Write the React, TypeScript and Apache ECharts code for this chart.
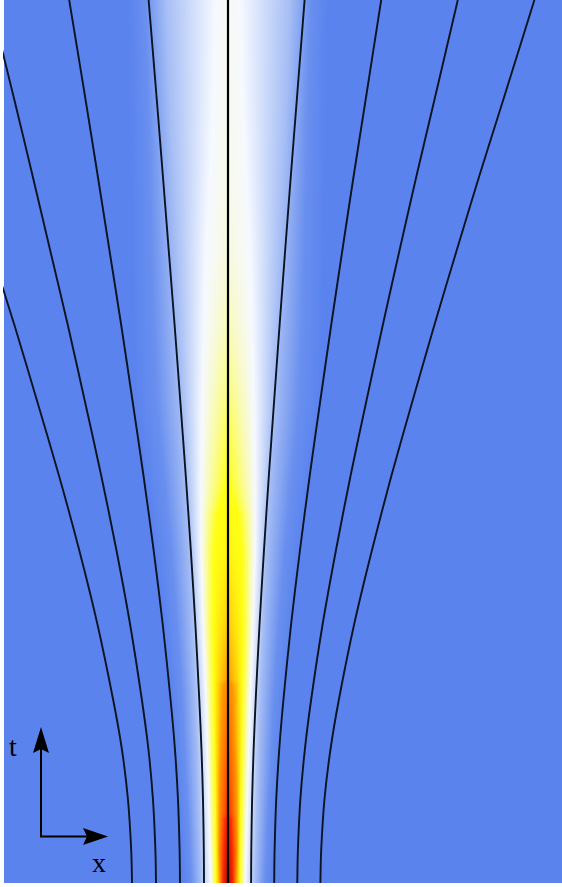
import React, { useEffect, useRef } from "react";
import * as echarts from "echarts";

// ---- characteristic curves: x offset from the centre line (px units) at each time row t ----
const tRows = [0, 33, 83, 133, 183, 258, 333, 408, 483, 558, 633, 708, 783, 883];
const curveL1 = [-24, -24.2, -25, -26.5, -28.7, -32.6, -37.2, -42.3, -47.8, -53.4, -59.3, -65.2, -71.2, -79.4];
const curveL2 = [-48, -48.4, -50, -53, -57.4, -65.2, -74.4, -84.6, -95.6, -106.8, -118.6, -130.4, -142.4, -158.8];
const curveL3 = [-72, -72.6, -75, -79.5, -86.1, -97.8, -111.6, -126.9, -143.4, -160.2, -177.9, -195.6, -213.6, -238.2];
const curveL4 = [-96, -96.8, -100, -106, -114.8, -130.4, -148.8, -169.2, -191.2, -213.6, -237.2, -260.8, -284.8, -317.6];
const curveR1 = [23.1, 23.3, 24.1, 25.6, 27.7, 31.5, 36, 40.9, 46.2, 51.6, 57.2, 62.9, 68.8, 76.6];
const curveR2 = [46.2, 46.6, 48.2, 51.2, 55.4, 63, 72, 81.8, 92.4, 103.2, 114.4, 125.8, 137.6, 153.2];
const curveR3 = [69.3, 69.9, 72.3, 76.8, 83.1, 94.5, 108, 122.7, 138.6, 154.8, 171.6, 188.7, 206.4, 229.8];
const curveR4 = [92.4, 93.2, 96.4, 102.4, 110.8, 126, 144, 163.6, 184.8, 206.4, 228.8, 251.6, 275.2, 306.4];
const curves = [curveL4, curveL3, curveL2, curveL1, curveR1, curveR2, curveR3, curveR4];

// ---- heat band: rows ----
const bandT = [0, 33, 108, 183, 258, 333, 408, 483, 558, 633, 708, 783, 883];
// peak colour level at the centre (1 light blue, 2 white, 3 yellow, 4 orange, 5 red, 6 dark)
const bandPeak = [5.5, 5.3, 4.7, 4.2, 3.5, 3.1, 3.0, 2.6, 2.3, 2.14, 2.1, 2.07, 2.05];
// half-widths at which each colour level is reached
const hwEdge = [45, 47, 52, 57, 64, 72, 82, 92, 95, 96, 97, 98, 100];
const hwLightBlue = [27, 28, 30, 32, 35, 38, 42, 46, 49, 52, 55, 58, 62];
const hwWhite = [17, 18, 20, 22, 25, 27, 27, 26, 24, 22, 18, 15, 12];
const hwYellow = [12, 12, 13, 14, 15, 14, 7, 0, 0, 0, 0, 0, 0];
const hwOrange = [8, 9, 8, 5, 0, 0, 0, 0, 0, 0, 0, 0, 0];
const hwRed = [5, 4, 0, 0, 0, 0, 0, 0, 0, 0, 0, 0, 0];

const levelColors = ["#5a83ee", "#a6bef5", "#f6f9ff", "#ffff14", "#ff9400", "#ff2400", "#400000"];
const BG = "#5a83ee";
const LINE = "#0a1420";

function hexToRgb(h: string) {
  const n = parseInt(h.slice(1), 16);
  return [(n >> 16) & 255, (n >> 8) & 255, n & 255];
}
function mix(a: string, b: string, f: number) {
  const x = hexToRgb(a);
  const y = hexToRgb(b);
  const c = x.map((v, i) => Math.round(v + (y[i] - v) * f));
  return `rgb(${c[0]},${c[1]},${c[2]})`;
}
function ramp(p: number) {
  const k = Math.max(0, Math.min(levelColors.length - 2, Math.floor(p)));
  const f = Math.max(0, Math.min(1, p - k));
  return mix(levelColors[k], levelColors[k + 1], f);
}

export default function App() {
  const ref = useRef<HTMLDivElement>(null);
  useEffect(() => {
    const chart = echarts.init(ref.current!, null, { renderer: "svg" });

    const bandSeries = {
      type: "custom",
      coordinateSystem: "cartesian2d",
      clip: true,
      silent: true,
      z: 1,
      data: bandT.slice(0, -1).map((t, i) => [0, t, bandT[i + 1]]),
      renderItem: (params: any, api: any) => {
        const i = params.dataIndex;
        const ta = bandT[i];
        const tb = bandT[i + 1];
        const n = Math.max(1, Math.ceil((tb - ta) / 3));
        const children: any[] = [];
        for (let s = 0; s < n; s++) {
          const fm = (s + 0.5) / n;
          const lerp = (arr: number[]) => arr[i] + (arr[i + 1] - arr[i]) * fm;
          const p = lerp(bandPeak);
          const edge = lerp(hwEdge);
          const hws = [lerp(hwLightBlue), lerp(hwWhite), lerp(hwYellow), lerp(hwOrange), lerp(hwRed)];
          const pTL = api.coord([-edge, ta + ((tb - ta) * (s + 1)) / n]);
          const pBR = api.coord([edge, ta + ((tb - ta) * s) / n]);
          const left: any[] = [{ offset: 0, color: levelColors[0] }];
          // soft shoulder between the background and the light-blue level
          const lb = hws[0];
          left.push({ offset: 0.5 - (edge - (edge - lb) * 0.45) / (2 * edge), color: mix(levelColors[0], levelColors[1], 0.2) });
          for (let k = 0; k < hws.length; k++) {
            const level = k + 1;
            if (p <= level) continue;
            const soft = Math.min(1, (p - level) / 0.05);
            const hw = hws[k] * soft;
            if (hw > 0.3 && hw < edge) {
              left.push({ offset: 0.5 - hw / (2 * edge), color: levelColors[level] });
            }
          }
          left.sort((a, b) => a.offset - b.offset);
          const stops = [...left, { offset: 0.5, color: ramp(p) }];
          for (let j = left.length - 1; j >= 0; j--) {
            stops.push({ offset: 1 - left[j].offset, color: left[j].color });
          }
          children.push({
            type: "rect",
            shape: { x: pTL[0], y: pTL[1], width: pBR[0] - pTL[0], height: pBR[1] - pTL[1] + 0.7 },
            style: { fill: new echarts.graphic.LinearGradient(0, 0, 1, 0, stops) },
          });
        }
        return { type: "group", children };
      },
    };

    const curveSeries = curves.map((c) => ({
      type: "line",
      data: tRows.map((t, i) => [c[i], t]),
      smooth: 0.3,
      showSymbol: false,
      symbol: "none",
      clip: true,
      silent: true,
      z: 3,
      lineStyle: { color: LINE, width: 1.9 },
    }));

    const centreSeries = {
      type: "line",
      data: [
        [0, 0],
        [0, 883],
      ],
      showSymbol: false,
      symbol: "none",
      silent: true,
      z: 4,
      lineStyle: { color: "#000", width: 2.2 },
    };

    const option: any = {
      animation: false,
      grid: {
        left: 4,
        right: 0,
        top: 0,
        bottom: 4,
        show: true,
        backgroundColor: BG,
        borderWidth: 0,
      },
      xAxis: { type: "value", min: -224, max: 334, show: false, splitLine: { show: false } },
      yAxis: { type: "value", min: 0, max: 883, show: false, splitLine: { show: false } },
      series: [bandSeries, ...curveSeries, centreSeries],
      graphic: [
        { type: "line", shape: { x1: 41, y1: 837, x2: 41, y2: 745 }, style: { stroke: "#000", lineWidth: 2 }, z: 10 },
        { type: "polygon", shape: { points: [[41, 727], [33, 753], [41, 749], [49, 753]] }, style: { fill: "#000" }, z: 10 },
        { type: "line", shape: { x1: 40, y1: 836.5, x2: 90, y2: 836.5 }, style: { stroke: "#000", lineWidth: 2 }, z: 10 },
        { type: "polygon", shape: { points: [[108, 836.5], [83, 828], [87, 836.5], [83, 845]] }, style: { fill: "#000" }, z: 10 },
        {
          type: "text",
          x: 13,
          y: 746,
          z: 10,
          style: { text: "t", font: '28px "Liberation Serif"', fill: "#000", textAlign: "center", textVerticalAlign: "middle" },
        },
        {
          type: "text",
          x: 99,
          y: 862,
          z: 10,
          style: { text: "x", font: '28px "Liberation Serif"', fill: "#000", textAlign: "center", textVerticalAlign: "middle" },
        },
      ],
    };
    chart.setOption(option);
    return () => chart.dispose();
  }, []);
  return (
    <div
      ref={ref}
      style={{ position: "absolute", left: 0, top: 0, width: 562, height: 887, background: "#fff" }}
    />
  );
}
